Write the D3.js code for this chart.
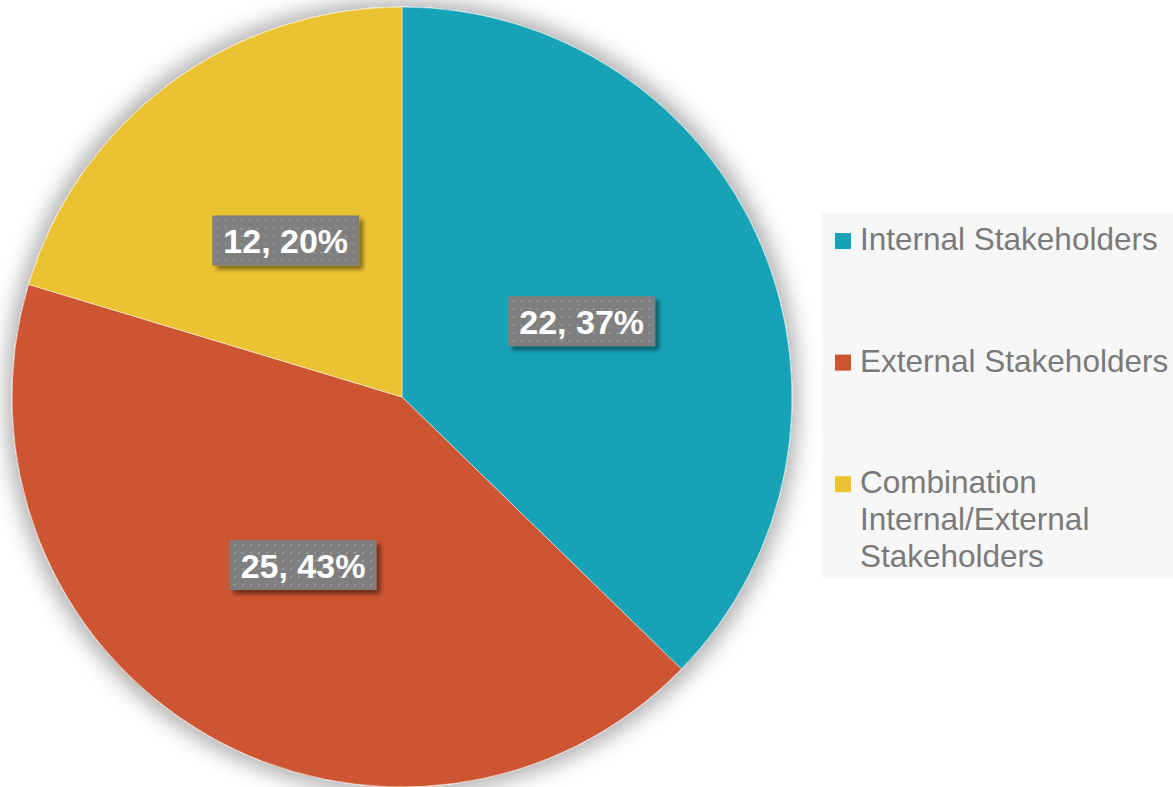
<!DOCTYPE html>
<html>
<head>
<meta charset="utf-8">
<script src="https://cdn.jsdelivr.net/npm/d3@7"></script>
<style>
  html, body { margin: 0; padding: 0; background: #fff; }
  svg { display: block; }
</style>
</head>
<body>
<svg id="pieChart" width="1173" height="787"></svg>
<script>
const categories = ["Internal Stakeholders", "External Stakeholders", "Combination Internal/External Stakeholders"];
const counts = [22, 25, 12];
const percentLabels = ["37%", "43%", "20%"];
const colors = ["#13A3B7", "#CE5430", "#EBC330"];

const svg = d3.select("#pieChart");
const width = +svg.attr("width");
const height = +svg.attr("height");

const cx = 402, cy = 397, radius = 390;

const defs = svg.append("defs");

// soft glow behind the pie
const glow = defs.append("filter").attr("id", "pieShadow")
  .attr("x", "-10%").attr("y", "-10%").attr("width", "120%").attr("height", "120%");
glow.append("feMorphology").attr("in", "SourceAlpha").attr("operator", "dilate").attr("radius", 6).attr("result", "grow");
glow.append("feGaussianBlur").attr("in", "grow").attr("stdDeviation", 10).attr("result", "blur");
glow.append("feFlood").attr("flood-color", "#000").attr("flood-opacity", 0.3);
glow.append("feComposite").attr("in2", "blur").attr("operator", "in").attr("result", "shadow");
const gm = glow.append("feMerge");
gm.append("feMergeNode").attr("in", "shadow");
gm.append("feMergeNode").attr("in", "SourceGraphic");

// label box shadow
const boxShadow = defs.append("filter").attr("id", "boxShadow")
  .attr("x", "-20%").attr("y", "-30%").attr("width", "140%").attr("height", "160%");
boxShadow.append("feDropShadow").attr("dx", 4).attr("dy", 4).attr("stdDeviation", 2)
  .attr("flood-color", "#000").attr("flood-opacity", 0.45);

// dotted fill of label boxes
const pat = defs.append("pattern").attr("id", "dots")
  .attr("width", 8).attr("height", 8).attr("patternUnits", "userSpaceOnUse");
pat.append("rect").attr("width", 8).attr("height", 8).attr("fill", "#7f7f7f");
pat.append("rect").attr("x", 3).attr("y", 3).attr("width", 2).attr("height", 2).attr("fill", "#969696");

const pie = d3.pie().sort(null).value(d => d.value);
const arcs = pie(categories.map((c, i) => ({ name: c, value: counts[i], pct: percentLabels[i], color: colors[i] })));

const arc = d3.arc().innerRadius(0).outerRadius(radius);
const labelArc = d3.arc().innerRadius(0).outerRadius(radius);

const gPie = svg.append("g").attr("transform", `translate(${cx},${cy})`);

gPie.append("g").attr("filter", "url(#pieShadow)")
  .selectAll("path").data(arcs).join("path")
  .attr("d", arc)
  .attr("fill", d => d.data.color)
  .attr("stroke", "#ffffff")
  .attr("stroke-opacity", 0.5)
  .attr("stroke-width", 1);

// data labels
const labels = gPie.selectAll("g.label").data(arcs).join("g")
  .attr("class", "label")
  .attr("transform", d => `translate(${labelArc.centroid(d)})`);

const boxW = 147, boxH = 50;
labels.append("rect")
  .attr("x", -boxW / 2).attr("y", -boxH / 2)
  .attr("width", boxW).attr("height", boxH)
  .attr("fill", "url(#dots)")
  .attr("filter", "url(#boxShadow)");

labels.append("text")
  .attr("text-anchor", "middle")
  .attr("y", 12.5)
  .attr("fill", "#ffffff")
  .attr("font-family", "'Liberation Sans', Arial, sans-serif")
  .attr("font-weight", "bold")
  .attr("font-size", 34)
  .text(d => `${d.data.value}, ${d.data.pct}`);

// legend
const legend = svg.append("g");
legend.append("rect")
  .attr("x", 822).attr("y", 213)
  .attr("width", width - 822).attr("height", 365)
  .attr("fill", "#f7f7f7");

const items = legend.selectAll("g.item").data(categories).join("g")
  .attr("class", "item")
  .attr("transform", (d, i) => `translate(835, ${250 + i * 121.6})`);

items.append("rect")
  .attr("x", 0).attr("y", -17)
  .attr("width", 16).attr("height", 16)
  .attr("fill", (d, i) => colors[i]);

items.append("text")
  .attr("x", 25)
  .attr("fill", "#7a7a7a")
  .attr("font-family", "'Liberation Sans', Arial, sans-serif")
  .attr("font-size", 31.5)
  .each(function (d) {
    const t = d3.select(this);
    const words = d.split(" ");
    let line = [];
    let tspan = t.append("tspan").attr("x", 25).attr("dy", 0);
    words.forEach(w => {
      line.push(w);
      tspan.text(line.join(" "));
      if (tspan.node().getComputedTextLength() > 320 && line.length > 1) {
        line.pop();
        tspan.text(line.join(" "));
        line = [w];
        tspan = t.append("tspan").attr("x", 25).attr("dy", 37).text(w);
      }
    });
  });
</script>
</body>
</html>
